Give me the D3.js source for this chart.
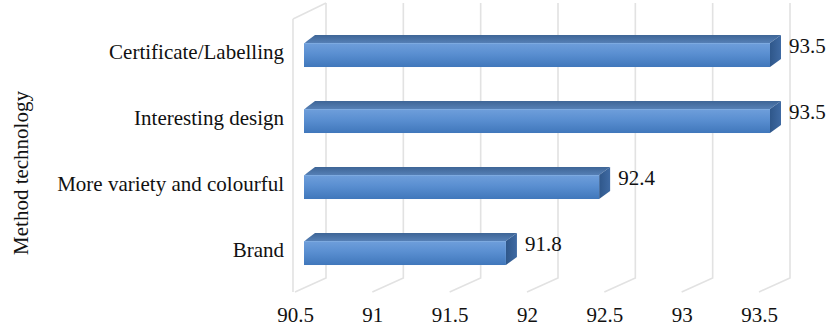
<!DOCTYPE html>
<html>
<head>
<meta charset="utf-8">
<script src="https://cdn.jsdelivr.net/npm/d3@7"></script>
<style>
  html, body { margin: 0; padding: 0; background: #ffffff; }
  svg { display: block; }
</style>
</head>
<body>
<svg id="chart" width="829" height="327"></svg>
<script>
// ---- data ----
const categories = ["Certificate/Labelling", "Interesting design", "More variety and colourful", "Brand"];
const values = [93.5, 93.5, 92.4, 91.8];
const tickValues = [90.5, 91, 91.5, 92, 92.5, 93, 93.5];
const tickLabels = ["90.5", "91", "91.5", "92", "92.5", "93", "93.5"];
const yTitle = "Method technology";

const FONT = "'Liberation Serif', 'Times New Roman', Times, 'DejaVu Serif', serif";
const svg = d3.select("#chart").attr("font-family", FONT);

// scales
const xFront = d3.scaleLinear().domain([90.5, 93.5]).range([295, 759]); // floor front edge / tick labels
const depthX = 31, floorFrontY = 292, floorBackY = 278, wallTop = 3;
const xBar = d3.scaleLinear().domain([90.5, 93.5]).range([304, 770]);
const y = d3.scaleBand().domain(categories).range([22, 286]).paddingInner(0.636).paddingOuter(0.318);
const bdx = 11, bdy = -8;

// defs
const defs = svg.append("defs");
const gFront = defs.append("linearGradient").attr("id", "gFront").attr("x1", 0).attr("y1", 0).attr("x2", 0).attr("y2", 1);
gFront.append("stop").attr("offset", "0%").attr("stop-color", "#6f9fdb");
gFront.append("stop").attr("offset", "45%").attr("stop-color", "#5a8fd1");
gFront.append("stop").attr("offset", "100%").attr("stop-color", "#4077bb");
const gTop = defs.append("linearGradient").attr("id", "gTop").attr("x1", 0).attr("y1", 0).attr("x2", 0).attr("y2", 1);
gTop.append("stop").attr("offset", "0%").attr("stop-color", "#3e6596");
gTop.append("stop").attr("offset", "100%").attr("stop-color", "#5b86bd");
const gSide = defs.append("linearGradient").attr("id", "gSide").attr("x1", 0).attr("y1", 0).attr("x2", 1).attr("y2", 0);
gSide.append("stop").attr("offset", "0%").attr("stop-color", "#2f578a");
gSide.append("stop").attr("offset", "100%").attr("stop-color", "#3f6aa3");

// ---- walls / gridlines ----
const grid = svg.append("g").attr("fill", "none").attr("stroke", "#e2e2e2").attr("stroke-width", 1.6);
grid.append("path")
  .attr("d", `M${xFront(90.5) - 2},${wallTop + 16} L${xFront(90.5) - 2},${floorFrontY}`);
grid.append("path")
  .attr("d", `M${xFront(90.5) - 2},${wallTop + 16} L${xFront(90.5) + depthX},${wallTop}`);
grid.selectAll("path.gl").data(tickValues).join("path")
  .attr("class", "gl")
  .attr("d", v => `M${xFront(v) + depthX},${wallTop} L${xFront(v) + depthX},${floorBackY} L${xFront(v)},${floorFrontY}`);

// ---- bars ----
const x0 = xBar(90.5);
const bars = svg.append("g").selectAll("g").data(categories).join("g");
bars.each(function (c, i) {
  const g = d3.select(this);
  const y0 = y(c), h = y.bandwidth(), x1 = xBar(values[i]);
  g.append("path")
    .attr("d", `M${x0},${y0 + 2} Q${x0},${y0} ${x0 + 3},${y0 - 2} L${x0 + bdx},${y0 + bdy} L${x1 + bdx},${y0 + bdy} L${x1},${y0} L${x0 + 2},${y0} Z`)
    .attr("fill", "url(#gTop)");
  g.append("path")
    .attr("d", `M${x1},${y0} L${x1 + bdx},${y0 + bdy} L${x1 + bdx},${y0 + bdy + h} L${x1},${y0 + h} Z`)
    .attr("fill", "url(#gSide)");
  g.append("rect")
    .attr("x", x0).attr("y", y0).attr("width", x1 - x0).attr("height", h)
    .attr("fill", "url(#gFront)");
  g.append("line")
    .attr("x1", x0).attr("x2", x1).attr("y1", y0 + 0.5).attr("y2", y0 + 0.5)
    .attr("stroke", "#7eaae0").attr("stroke-width", 1);
  g.append("text")
    .attr("x", x1 + bdx + 8)
    .attr("y", y0 + h / 2 - 9)
    .attr("dy", "0.35em")
    .attr("font-size", 21)
    .attr("font-family", FONT)
    .attr("fill", "#111")
    .text(values[i]);
});

// ---- category labels ----
svg.append("g").selectAll("text").data(categories).join("text")
  .attr("x", 284)
  .attr("y", c => y(c) + y.bandwidth() / 2 - 3)
  .attr("dy", "0.35em")
  .attr("text-anchor", "end")
  .attr("font-size", 21)
  .attr("font-family", FONT)
  .attr("fill", "#111")
  .text(c => c);

// ---- x axis labels ----
const axis = d3.axisBottom(xFront)
  .tickValues(tickValues)
  .tickFormat((d, i) => tickLabels[i])
  .tickSize(0)
  .tickPadding(0);
const ax = svg.append("g").attr("transform", "translate(0,307)").call(axis)
  .attr("font-family", FONT).attr("font-size", 21);
ax.select(".domain").remove();
ax.selectAll("text").attr("fill", "#111");

// ---- y axis title ----
svg.append("text")
  .attr("transform", "translate(21,173) rotate(-90)")
  .attr("text-anchor", "middle")
  .attr("dy", "0.35em")
  .attr("font-size", 21)
  .attr("font-family", FONT)
  .attr("fill", "#111")
  .text(yTitle);
</script>
</body>
</html>
